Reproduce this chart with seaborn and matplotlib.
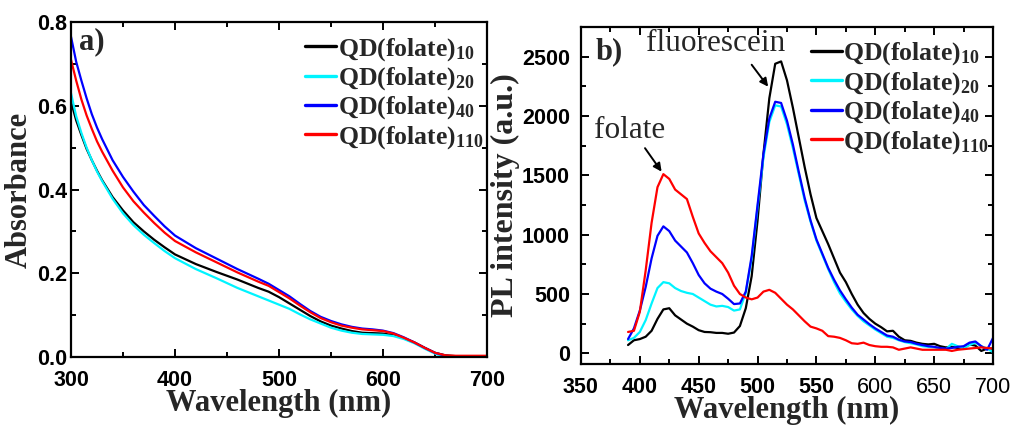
import numpy as np
import pandas as pd
import matplotlib
matplotlib.use("Agg")
import matplotlib.pyplot as plt
from matplotlib.ticker import MultipleLocator, FormatStrFormatter
from matplotlib.lines import Line2D
import seaborn as sns

# ---- data: (a) absorbance ----
wl_abs = [300, 305, 310, 315, 320, 325, 330, 340, 350, 360, 370, 380, 390, 400,
          420, 440, 460, 480, 490, 500, 510, 520, 530, 540, 550, 560, 570, 580,
          590, 600, 610, 620, 630, 640, 650, 660, 670, 680, 700]
abs_10 = [.61, .565, .53, .497, .47, .445, .422, .382, .35, .322, .30, .28, .262, .245,
          .222, .203, .185, .165, .156, .143, .128, .113, .098, .085, .075, .068, .062, .058,
          .057, .056, .052, .045, .035, .022, .01, .004, .002, .001, .0]
abs_20 = [.63, .575, .535, .5, .47, .443, .42, .378, .343, .315, .292, .272, .253, .236,
          .21, .188, .165, .145, .135, .125, .115, .102, .09, .08, .07, .063, .058, .055,
          .054, .053, .05, .043, .033, .02, .008, .0, -.002, -.002, -.001]
abs_40 = [.765, .705, .66, .618, .58, .548, .52, .47, .43, .395, .363, .337, .312, .29,
          .26, .235, .21, .187, .175, .16, .145, .127, .11, .096, .086, .078, .072, .068,
          .066, .063, .057, .047, .035, .022, .01, .003, .001, .0, .0]
abs_110 = [.71, .66, .615, .577, .545, .515, .49, .445, .405, .372, .345, .32, .297, .277,
           .25, .226, .202, .18, .17, .155, .14, .123, .107, .093, .083, .075, .07, .066,
           .064, .062, .056, .046, .035, .022, .01, .004, .003, .003, .003]

# ---- data: (b) PL intensity, 390..700 nm every 5 nm ----
wl_pl = list(range(390, 701, 5))
pl_10 = [70, 110, 120, 140, 190, 290, 370, 380, 320, 285, 250, 225, 195, 180, 178, 172,
         172, 165, 175, 230, 380, 650, 1120, 1680, 2150, 2440, 2460, 2300, 2070, 1820,
         1570, 1340, 1140, 1030, 920, 800, 680, 600, 500, 410, 340, 290, 250, 220, 185,
         190, 140, 110, 105, 90, 80, 75, 80, 60, 50, 55, 45, 50, 75, 65, 20, 40, 40]
pl_20 = [110, 130, 180, 280, 420, 550, 600, 590, 550, 525, 510, 500, 470, 440, 410, 395,
         400, 390, 360, 370, 510, 800, 1230, 1650, 1950, 2090, 2080, 1930, 1730, 1510,
         1290, 1110, 950, 830, 710, 600, 505, 435, 370, 315, 270, 235, 200, 170, 140,
         130, 110, 95, 85, 75, 60, 55, 50, 40, 35, 80, 60, 40, 70, 90, 60, 40, 10]
pl_40 = [120, 210, 360, 560, 800, 990, 1070, 1030, 950, 900, 850, 760, 660, 590, 545, 520,
         500, 460, 415, 420, 520, 820, 1250, 1680, 1980, 2120, 2110, 1960, 1760, 1530,
         1310, 1120, 960, 840, 720, 620, 530, 455, 385, 325, 285, 245, 210, 180, 150,
         140, 115, 100, 95, 80, 70, 60, 55, 45, 40, 45, 55, 60, 90, 100, 60, 30, 130]
pl_110 = [180, 190, 350, 700, 1100, 1400, 1510, 1470, 1380, 1340, 1300, 1150, 1010, 930,
          860, 810, 760, 680, 570, 500, 470, 455, 470, 520, 535, 510, 460, 410, 370, 320,
          270, 225, 210, 190, 145, 140, 130, 110, 85, 80, 90, 70, 60, 55, 55, 50, 30, 40,
          50, 40, 30, 30, 30, 30, 30, 20, 30, 35, 40, 45, 50, 45, 40]

names = ["QD10", "QD20", "QD40", "QD110"]
subs = ["10", "20", "40", "110"]
colors = ["#000000", "#00f4ff", "#0000ff", "#ff0000"]
palette = dict(zip(names, colors))

df_abs = pd.concat([pd.DataFrame({"wl": wl_abs, "y": v, "s": n})
                    for n, v in zip(names, [abs_10, abs_20, abs_40, abs_110])])
df_pl = pd.concat([pd.DataFrame({"wl": wl_pl, "y": v, "s": n})
                   for n, v in zip(names, [pl_10, pl_20, pl_40, pl_110])])

sns.set_theme(style="ticks")
plt.rcParams["font.family"] = ["Liberation Sans", "DejaVu Sans"]
plt.rcParams["mathtext.fontset"] = "custom"
plt.rcParams["mathtext.rm"] = "Liberation Serif:bold"
plt.rcParams["mathtext.bf"] = "Liberation Serif:bold"
plt.rcParams["mathtext.it"] = "Liberation Serif:bold"

serif = ["Liberation Serif", "DejaVu Serif"]

fig = plt.figure(figsize=(10.1, 4.32), dpi=100)
ax1 = fig.add_axes([0.0703, 0.1736, 0.4119, 0.7754])
ax2 = fig.add_axes([0.5752, 0.1574, 0.4080, 0.7801])

for ax, df, anchor in [(ax1, df_abs, (1.016, 0.99)), (ax2, df_pl, (1.015, 0.99))]:
    sns.lineplot(data=df, x="wl", y="y", hue="s", palette=palette, ax=ax,
                 legend=False, linewidth=1.6, sort=True, estimator=None)
    for sp in ax.spines.values():
        sp.set_linewidth(1.6)
        sp.set_color("black")
    ax.tick_params(which="both", direction="in", top=True, right=True,
                   width=1.4, colors="black", labelsize=15.5)
    ax.tick_params(which="major", length=6)
    ax.tick_params(which="minor", length=3.5)
    for lab in ax.get_xticklabels() + ax.get_yticklabels():
        lab.set_fontweight("bold")
    ax.set_xlabel("Wavelength (nm)", fontfamily=serif, fontweight="bold", fontsize=22,
                  labelpad=-1)

    handles = [Line2D([], [], color=c, lw=2.4) for c in colors]
    labels = ["QD(folate)$_{\\mathbf{%s}}$" % s for s in subs]
    ax.legend(handles, labels, loc="upper right", bbox_to_anchor=anchor, frameon=False,
              prop={"family": serif, "weight": "bold", "size": 18.5},
              handlelength=1.2, handletextpad=0.06, labelspacing=0.1,
              borderaxespad=0.15, borderpad=0.25)

# panel a
ax1.set_xlim(300, 700)
ax1.set_ylim(0, 0.8)
ax1.xaxis.set_major_locator(MultipleLocator(100))
ax1.xaxis.set_minor_locator(MultipleLocator(50))
ax1.yaxis.set_major_locator(MultipleLocator(0.2))
ax1.yaxis.set_minor_locator(MultipleLocator(0.1))
ax1.yaxis.set_major_formatter(FormatStrFormatter("%.1f"))
ax1.tick_params(axis="y", pad=3)
ax1.tick_params(axis="x", pad=9)
ax1.set_ylabel("Absorbance", fontfamily=serif, fontweight="bold", fontsize=22, labelpad=2)
ax1.text(0.02, 0.985, "a)", transform=ax1.transAxes, ha="left", va="top",
         fontfamily=serif, fontweight="bold", fontsize=22)

# panel b
ax2.set_xlim(350, 700)
ax2.set_ylim(-90, 2750)
ax2.xaxis.set_major_locator(MultipleLocator(50))
ax2.xaxis.set_minor_locator(MultipleLocator(25))
ax2.yaxis.set_major_locator(MultipleLocator(500))
ax2.yaxis.set_minor_locator(MultipleLocator(250))
ax2.tick_params(axis="y", pad=8)
ax2.tick_params(axis="x", pad=9)
ax2.set_ylabel("PL intensity (a.u.)", fontfamily=serif, fontweight="bold", fontsize=23,
               labelpad=1)
ax2.text(0.035, 0.97, "b)", transform=ax2.transAxes, ha="left", va="top",
         fontfamily=serif, fontweight="bold", fontsize=22)

arrow = dict(arrowstyle="-|>", color="black", lw=1.4, mutation_scale=12,
             shrinkA=0, shrinkB=0)
ax2.text(464, 2545, "fluorescein", ha="center", va="baseline",
         fontfamily=serif, fontsize=22.5)
ax2.annotate("", xy=(509, 2247), xytext=(495, 2432), arrowprops=arrow)
ax2.text(391, 1816, "folate", ha="center", va="baseline",
         fontfamily=serif, fontsize=22.5)
ax2.annotate("", xy=(418.5, 1531), xytext=(404.4, 1729), arrowprops=arrow)

fig.savefig("out.png", dpi=100)
